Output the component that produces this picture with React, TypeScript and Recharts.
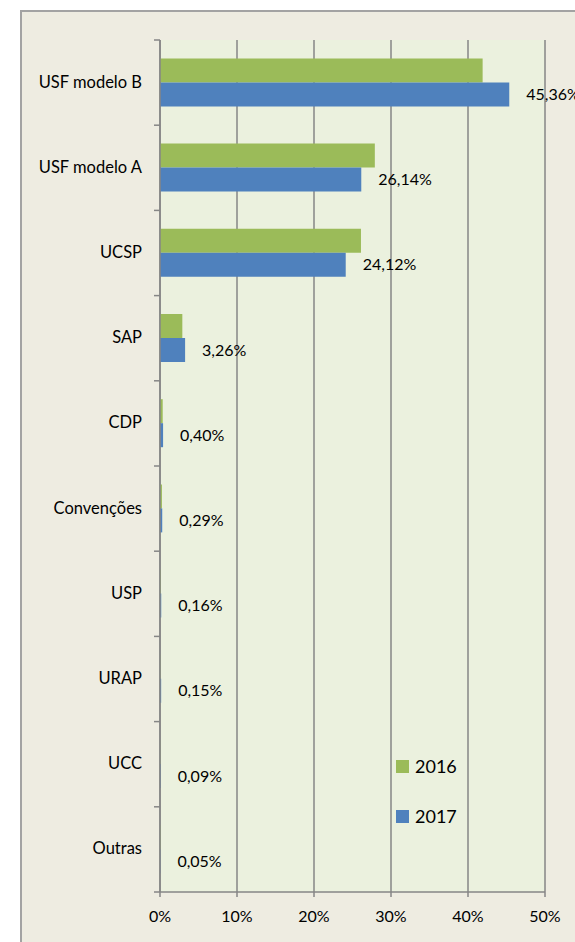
import React from 'react'
import { BarChart, Bar, XAxis, YAxis, CartesianGrid, LabelList } from 'recharts'

const categories = ['USF modelo B', 'USF modelo A', 'UCSP', 'SAP', 'CDP', 'Convenções', 'USP', 'URAP', 'UCC', 'Outras']
const values2016 = [41.9, 27.9, 26.1, 2.9, 0.35, 0.25, 0.1, 0.05, 0.04, 0.07]
const values2017 = [45.36, 26.14, 24.12, 3.26, 0.4, 0.29, 0.16, 0.15, 0.09, 0.05]
const xTicks = [0, 10, 20, 30, 40, 50]
const seriesNames = ['2016', '2017']

const GREEN = '#9BBB59'
const BLUE = '#4F81BD'
const AXIS = '#868686'
const FONT = 'Lato, "Open Sans", sans-serif'

const W = 575
const H = 942
const PLOT_LEFT = 160
const PLOT_TOP = 40
const PLOT_BOTTOM = 892
const BAND = (PLOT_BOTTOM - PLOT_TOP) / categories.length

const data = categories.map((name, i) => ({
  name,
  y2016: values2016[i],
  y2017: values2017[i],
}))

const pct = (v: number) => `${Number(v).toFixed(2).replace('.', ',')}%`

function CategoryTick(props: any) {
  const { y, payload, index } = props
  const last = index === categories.length - 1
  return (
    <g>
      <text
        x={PLOT_LEFT - 18}
        y={y}
        dy="0.3em"
        textAnchor="end"
        fill="#000"
        fontSize={16.5}
        fontFamily={FONT}
      >
        {payload.value}
      </text>
      <line x1={PLOT_LEFT - 6} x2={PLOT_LEFT} y1={y - BAND / 2} y2={y - BAND / 2} stroke={AXIS} strokeWidth={1.5} />
      {last && (
        <line x1={PLOT_LEFT - 6} x2={PLOT_LEFT} y1={y + BAND / 2} y2={y + BAND / 2} stroke={AXIS} strokeWidth={1.5} />
      )}
    </g>
  )
}

export default function App() {
  const colors = [GREEN, BLUE]
  return (
    <div style={{ position: 'absolute', left: 0, top: 0, width: W, height: H, overflow: 'hidden', background: '#fff' }}>
      <div
        style={{
          position: 'absolute',
          left: 20,
          top: 10,
          width: W,
          height: H,
          background: '#EEECE1',
          border: '2px solid #A3A3A3',
        }}
      />
      <div style={{ position: 'absolute', left: 0, top: 0 }}>
        <BarChart
          layout="vertical"
          width={W}
          height={H}
          data={data}
          margin={{ top: PLOT_TOP, right: 30, bottom: 0, left: 0 }}
          barCategoryGap="21.6%"
          barGap={0}
        >
          <CartesianGrid horizontal={false} stroke={AXIS} strokeWidth={1.5} fill="#EBF1DE" />
          <XAxis
            type="number"
            domain={[0, 50]}
            ticks={xTicks}
            tickFormatter={(v) => `${v}%`}
            axisLine={{ stroke: AXIS, strokeWidth: 1.5 }}
            tickLine={{ stroke: AXIS, strokeWidth: 1.5 }}
            tickSize={5}
            tickMargin={14}
            height={H - PLOT_BOTTOM}
            tick={{ fill: '#000', fontSize: 16, fontFamily: FONT }}
          />
          <YAxis
            type="category"
            dataKey="name"
            width={PLOT_LEFT}
            interval={0}
            axisLine={{ stroke: AXIS, strokeWidth: 1.5 }}
            tickLine={false}
            tick={CategoryTick}
          />
          <Bar dataKey="y2016" fill={GREEN} isAnimationActive={false} />
          <Bar dataKey="y2017" fill={BLUE} isAnimationActive={false}>
            <LabelList
              dataKey="y2017"
              position="right"
              offset={17}
              formatter={(v: any) => pct(v)}
              fill="#000"
              fontSize={16}
              fontFamily={FONT}
            />
          </Bar>
        </BarChart>
      </div>
      <div style={{ position: 'absolute', left: 396, top: 748, fontFamily: FONT, fontSize: 18, color: '#000' }}>
        {seriesNames.map((s, i) => (
          <div key={s} style={{ display: 'flex', alignItems: 'center', height: 36, marginBottom: i === 0 ? 14 : 0 }}>
            <span style={{ width: 13, height: 13, background: colors[i], marginRight: 6, display: 'inline-block' }} />
            <span>{s}</span>
          </div>
        ))}
      </div>
    </div>
  )
}
